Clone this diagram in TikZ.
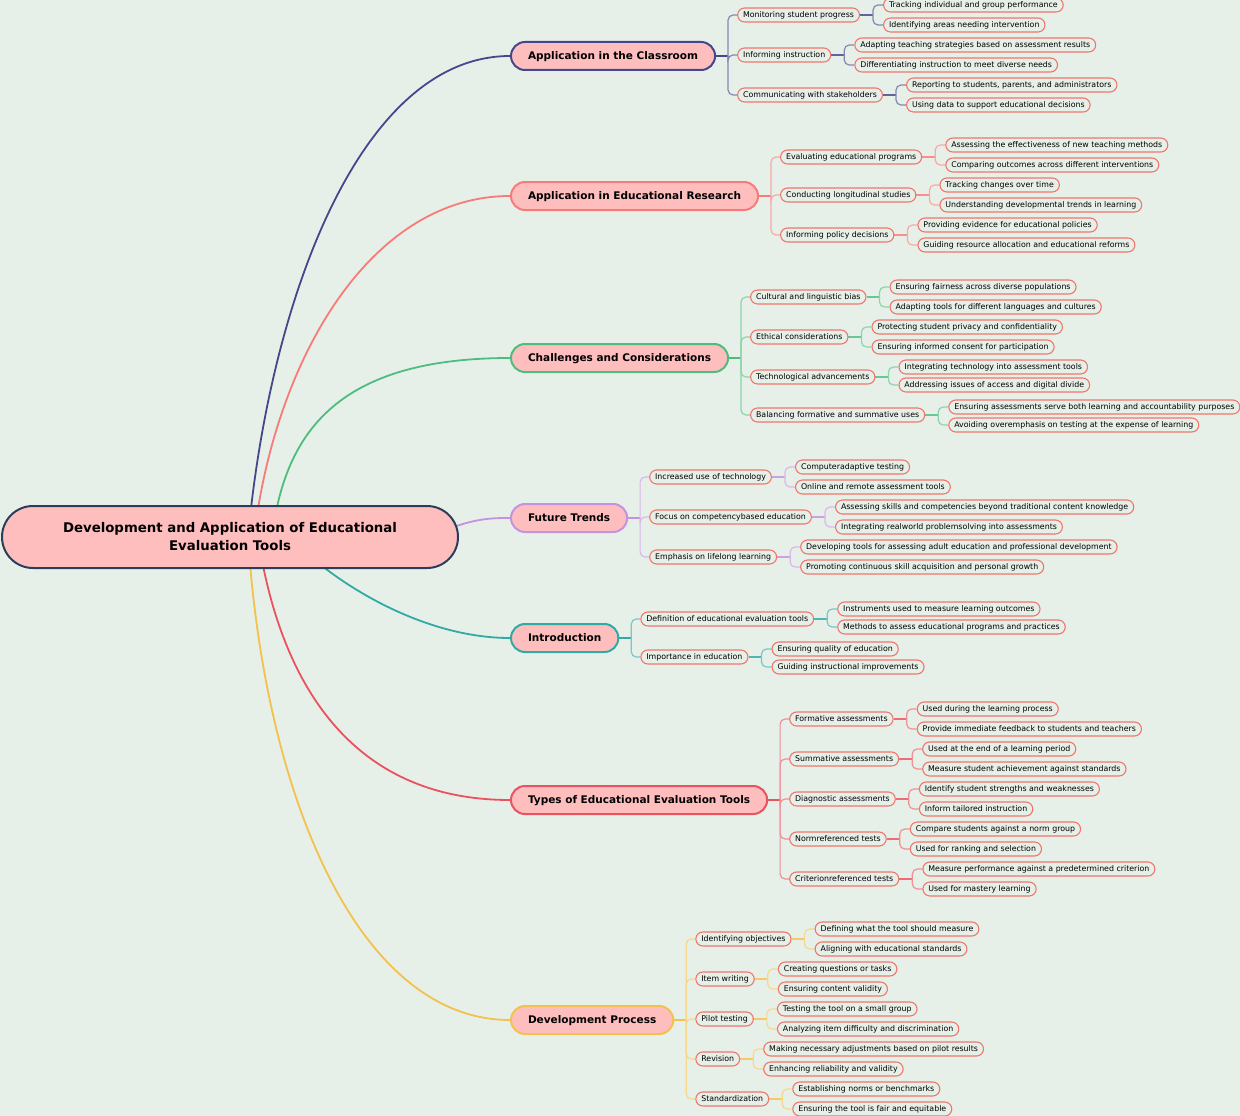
\documentclass[tikz,border=0pt]{standalone}
\usepackage{fontspec}
\setmainfont{DejaVu Sans}

\definecolor{pagebg}{RGB}{231,240,232}
\definecolor{pinkfill}{RGB}{255,190,190}
\definecolor{rootline}{RGB}{42,62,92}
\definecolor{leafline}{RGB}{240,118,108}
\definecolor{cNavy}{RGB}{68,71,138}
\definecolor{cSalmon}{RGB}{247,123,120}
\definecolor{cGreen}{RGB}{77,189,127}
\definecolor{cLav}{RGB}{195,146,224}
\definecolor{cTeal}{RGB}{47,170,165}
\definecolor{cRed}{RGB}{233,82,95}
\definecolor{cYellow}{RGB}{242,193,78}

\pgfdeclarelayer{wires}
\pgfsetlayers{wires,main}

\begin{document}
\begin{tikzpicture}[x=1pt, y=-1pt,
    hub/.style={draw=rootline, fill=pinkfill, line width=2pt, rounded corners=31pt,
        minimum width=456pt, minimum height=62pt, align=center,
        font=\fontsize{13.3}{18}\selectfont\bfseries},
    topic/.style={anchor=west, fill=pinkfill, line width=2pt, rounded corners=14pt,
        minimum height=28pt, inner xsep=17pt, inner ysep=0pt, text height=8.5pt, text depth=1pt,
        font=\fontsize{10.5}{12}\selectfont\bfseries},
    leaf/.style={anchor=west, draw=leafline, fill=pagebg, line width=1.1pt, rounded corners=7pt,
        minimum height=14pt, inner xsep=5.5pt, inner ysep=0pt, text height=6.2pt, text depth=0.6pt,
        font=\fontsize{7.85}{9}\selectfont},
    limb/.style={draw=#1, line width=1.8pt},
    stub/.style={draw=#1, line width=2.2pt},
    twig/.style={draw=#1!65, line width=1.2pt, rounded corners=5pt}]

    \useasboundingbox (0,0) rectangle (1240,1116);
    \begin{pgfonlayer}{wires}
        \fill[pagebg] (0,0) rectangle (1240,1116);
    \end{pgfonlayer}

    % centre
    \node[hub] (root) at (230,537) {Development and Application of Educational\\Evaluation Tools};

    % main topics
    \node[topic, draw=cNavy] (cls) at (510,56) {Application in the Classroom};
    \node[topic, draw=cSalmon] (res) at (510,196) {Application in Educational Research};
    \node[topic, draw=cGreen] (chl) at (510,358) {Challenges and Considerations};
    \node[topic, draw=cLav] (fut) at (510,518) {Future Trends};
    \node[topic, draw=cTeal] (int) at (510,638) {Introduction};
    \node[topic, draw=cRed] (typ) at (510,800) {Types of Educational Evaluation Tools};
    \node[topic, draw=cYellow] (dev) at (510,1020) {Development Process};

    \begin{pgfonlayer}{wires}
        \draw[limb=cNavy] ([xshift=18pt]root.center) .. controls (270,300) and (360,56) .. (cls.west);
        \draw[limb=cSalmon] ([xshift=24pt]root.center) .. controls (275,360) and (370,196) .. (res.west);
        \draw[limb=cGreen] ([xshift=42pt]root.center) .. controls (285,430) and (340,358) .. (chl.west);
        \draw[limb=cLav] ([xshift=200pt]root.center) .. controls (470,518) and (490,518) .. (fut.west);
        \draw[limb=cTeal] ([xshift=60pt]root.center) .. controls (330,580) and (420,638) .. (int.west);
        \draw[limb=cRed] ([xshift=28pt]root.center) .. controls (275,650) and (330,800) .. (typ.west);
        \draw[limb=cYellow] ([xshift=18pt]root.center) .. controls (265,800) and (360,1020) .. (dev.west);
    \end{pgfonlayer}

    % Application in the Classroom
    \coordinate (clsj) at ([xshift=12pt]cls.east);
    \begin{pgfonlayer}{wires}\draw[stub=cNavy] (cls.east) -- (clsj);\end{pgfonlayer}
    \foreach \nm/\yy/\txt in {cls1/15/{Monitoring student progress},
            cls2/55/{Informing instruction}, cls3/95/{Communicating with stakeholders}} {
        \node[leaf, xshift=21pt] (\nm) at (cls.east |- 0,\yy) {\txt};
        \begin{pgfonlayer}{wires}
            \draw[twig=cNavy] (clsj) |- (\nm.west);
            \draw[stub=cNavy!85] (\nm.east) -- ++(13,0);
        \end{pgfonlayer}
    }
    \foreach \up/\nm/\yy/\txt in {cls1/cls1a/5/{Tracking individual and group performance},
            cls1/cls1b/25/{Identifying areas needing intervention},
            cls2/cls2a/45/{Adapting teaching strategies based on assessment results},
            cls2/cls2b/65/{Differentiating instruction to meet diverse needs},
            cls3/cls3a/85/{Reporting to students, parents, and administrators},
            cls3/cls3b/105/{Using data to support educational decisions}} {
        \node[leaf, xshift=23pt] (\nm) at (\up.east |- 0,\yy) {\txt};
        \begin{pgfonlayer}{wires}\draw[twig=cNavy] ([xshift=13pt]\up.east) |- (\nm.west);\end{pgfonlayer}
    }

    % Application in Educational Research
    \coordinate (resj) at ([xshift=12pt]res.east);
    \begin{pgfonlayer}{wires}\draw[stub=cSalmon] (res.east) -- (resj);\end{pgfonlayer}
    \foreach \nm/\yy/\txt in {res1/157/{Evaluating educational programs},
            res2/195/{Conducting longitudinal studies}, res3/235/{Informing policy decisions}} {
        \node[leaf, xshift=21pt] (\nm) at (res.east |- 0,\yy) {\txt};
        \begin{pgfonlayer}{wires}
            \draw[twig=cSalmon] (resj) |- (\nm.west);
            \draw[stub=cSalmon!85] (\nm.east) -- ++(13,0);
        \end{pgfonlayer}
    }
    \foreach \up/\nm/\yy/\txt in {res1/res1a/145/{Assessing the effectiveness of new teaching methods},
            res1/res1b/165/{Comparing outcomes across different interventions},
            res2/res2a/185/{Tracking changes over time},
            res2/res2b/205/{Understanding developmental trends in learning},
            res3/res3a/225/{Providing evidence for educational policies},
            res3/res3b/245/{Guiding resource allocation and educational reforms}} {
        \node[leaf, xshift=23pt] (\nm) at (\up.east |- 0,\yy) {\txt};
        \begin{pgfonlayer}{wires}\draw[twig=cSalmon] ([xshift=13pt]\up.east) |- (\nm.west);\end{pgfonlayer}
    }

    % Challenges and Considerations
    \coordinate (chlj) at ([xshift=12pt]chl.east);
    \begin{pgfonlayer}{wires}\draw[stub=cGreen] (chl.east) -- (chlj);\end{pgfonlayer}
    \foreach \nm/\yy/\txt in {chl1/297/{Cultural and linguistic bias},
            chl2/337/{Ethical considerations}, chl3/377/{Technological advancements},
            chl4/415/{Balancing formative and summative uses}} {
        \node[leaf, xshift=21pt] (\nm) at (chl.east |- 0,\yy) {\txt};
        \begin{pgfonlayer}{wires}
            \draw[twig=cGreen] (chlj) |- (\nm.west);
            \draw[stub=cGreen!85] (\nm.east) -- ++(13,0);
        \end{pgfonlayer}
    }
    \foreach \up/\nm/\yy/\txt in {chl1/chl1a/287/{Ensuring fairness across diverse populations},
            chl1/chl1b/307/{Adapting tools for different languages and cultures},
            chl2/chl2a/327/{Protecting student privacy and confidentiality},
            chl2/chl2b/347/{Ensuring informed consent for participation},
            chl3/chl3a/367/{Integrating technology into assessment tools},
            chl3/chl3b/385/{Addressing issues of access and digital divide},
            chl4/chl4a/407/{Ensuring assessments serve both learning and accountability purposes},
            chl4/chl4b/425/{Avoiding overemphasis on testing at the expense of learning}} {
        \node[leaf, xshift=23pt] (\nm) at (\up.east |- 0,\yy) {\txt};
        \begin{pgfonlayer}{wires}\draw[twig=cGreen] ([xshift=13pt]\up.east) |- (\nm.west);\end{pgfonlayer}
    }

    % Future Trends
    \coordinate (futj) at ([xshift=12pt]fut.east);
    \begin{pgfonlayer}{wires}\draw[stub=cLav] (fut.east) -- (futj);\end{pgfonlayer}
    \foreach \nm/\yy/\txt in {fut1/477/{Increased use of technology},
            fut2/517/{Focus on competencybased education}, fut3/557/{Emphasis on lifelong learning}} {
        \node[leaf, xshift=21pt] (\nm) at (fut.east |- 0,\yy) {\txt};
        \begin{pgfonlayer}{wires}
            \draw[twig=cLav] (futj) |- (\nm.west);
            \draw[stub=cLav!85] (\nm.east) -- ++(13,0);
        \end{pgfonlayer}
    }
    \foreach \up/\nm/\yy/\txt in {fut1/fut1a/467/{Computeradaptive testing},
            fut1/fut1b/487/{Online and remote assessment tools},
            fut2/fut2a/507/{Assessing skills and competencies beyond traditional content knowledge},
            fut2/fut2b/527/{Integrating realworld problemsolving into assessments},
            fut3/fut3a/547/{Developing tools for assessing adult education and professional development},
            fut3/fut3b/567/{Promoting continuous skill acquisition and personal growth}} {
        \node[leaf, xshift=23pt] (\nm) at (\up.east |- 0,\yy) {\txt};
        \begin{pgfonlayer}{wires}\draw[twig=cLav] ([xshift=13pt]\up.east) |- (\nm.west);\end{pgfonlayer}
    }

    % Introduction
    \coordinate (intj) at ([xshift=12pt]int.east);
    \begin{pgfonlayer}{wires}\draw[stub=cTeal] (int.east) -- (intj);\end{pgfonlayer}
    \foreach \nm/\yy/\txt in {int1/619/{Definition of educational evaluation tools},
            int2/657/{Importance in education}} {
        \node[leaf, xshift=21pt] (\nm) at (int.east |- 0,\yy) {\txt};
        \begin{pgfonlayer}{wires}
            \draw[twig=cTeal] (intj) |- (\nm.west);
            \draw[stub=cTeal!85] (\nm.east) -- ++(13,0);
        \end{pgfonlayer}
    }
    \foreach \up/\nm/\yy/\txt in {int1/int1a/609/{Instruments used to measure learning outcomes},
            int1/int1b/627/{Methods to assess educational programs and practices},
            int2/int2a/649/{Ensuring quality of education},
            int2/int2b/667/{Guiding instructional improvements}} {
        \node[leaf, xshift=23pt] (\nm) at (\up.east |- 0,\yy) {\txt};
        \begin{pgfonlayer}{wires}\draw[twig=cTeal] ([xshift=13pt]\up.east) |- (\nm.west);\end{pgfonlayer}
    }

    % Types of Educational Evaluation Tools
    \coordinate (typj) at ([xshift=12pt]typ.east);
    \begin{pgfonlayer}{wires}\draw[stub=cRed] (typ.east) -- (typj);\end{pgfonlayer}
    \foreach \nm/\yy/\txt in {typ1/719/{Formative assessments}, typ2/759/{Summative assessments},
            typ3/799/{Diagnostic assessments}, typ4/839/{Normreferenced tests},
            typ5/879/{Criterionreferenced tests}} {
        \node[leaf, xshift=21pt] (\nm) at (typ.east |- 0,\yy) {\txt};
        \begin{pgfonlayer}{wires}
            \draw[twig=cRed] (typj) |- (\nm.west);
            \draw[stub=cRed!85] (\nm.east) -- ++(13,0);
        \end{pgfonlayer}
    }
    \foreach \up/\nm/\yy/\txt in {typ1/typ1a/709/{Used during the learning process},
            typ1/typ1b/729/{Provide immediate feedback to students and teachers},
            typ2/typ2a/749/{Used at the end of a learning period},
            typ2/typ2b/769/{Measure student achievement against standards},
            typ3/typ3a/789/{Identify student strengths and weaknesses},
            typ3/typ3b/809/{Inform tailored instruction},
            typ4/typ4a/829/{Compare students against a norm group},
            typ4/typ4b/849/{Used for ranking and selection},
            typ5/typ5a/869/{Measure performance against a predetermined criterion},
            typ5/typ5b/889/{Used for mastery learning}} {
        \node[leaf, xshift=23pt] (\nm) at (\up.east |- 0,\yy) {\txt};
        \begin{pgfonlayer}{wires}\draw[twig=cRed] ([xshift=13pt]\up.east) |- (\nm.west);\end{pgfonlayer}
    }

    % Development Process
    \coordinate (devj) at ([xshift=12pt]dev.east);
    \begin{pgfonlayer}{wires}\draw[stub=cYellow] (dev.east) -- (devj);\end{pgfonlayer}
    \foreach \nm/\yy/\txt in {dev1/939/{Identifying objectives}, dev2/979/{Item writing},
            dev3/1019/{Pilot testing}, dev4/1059/{Revision}, dev5/1099/{Standardization}} {
        \node[leaf, xshift=21pt] (\nm) at (dev.east |- 0,\yy) {\txt};
        \begin{pgfonlayer}{wires}
            \draw[twig=cYellow] (devj) |- (\nm.west);
            \draw[stub=cYellow!85] (\nm.east) -- ++(13,0);
        \end{pgfonlayer}
    }
    \foreach \up/\nm/\yy/\txt in {dev1/dev1a/929/{Defining what the tool should measure},
            dev1/dev1b/949/{Aligning with educational standards},
            dev2/dev2a/969/{Creating questions or tasks},
            dev2/dev2b/989/{Ensuring content validity},
            dev3/dev3a/1009/{Testing the tool on a small group},
            dev3/dev3b/1029/{Analyzing item difficulty and discrimination},
            dev4/dev4a/1049/{Making necessary adjustments based on pilot results},
            dev4/dev4b/1069/{Enhancing reliability and validity},
            dev5/dev5a/1089/{Establishing norms or benchmarks},
            dev5/dev5b/1109/{Ensuring the tool is fair and equitable}} {
        \node[leaf, xshift=23pt] (\nm) at (\up.east |- 0,\yy) {\txt};
        \begin{pgfonlayer}{wires}\draw[twig=cYellow] ([xshift=13pt]\up.east) |- (\nm.west);\end{pgfonlayer}
    }
\end{tikzpicture}
\end{document}
